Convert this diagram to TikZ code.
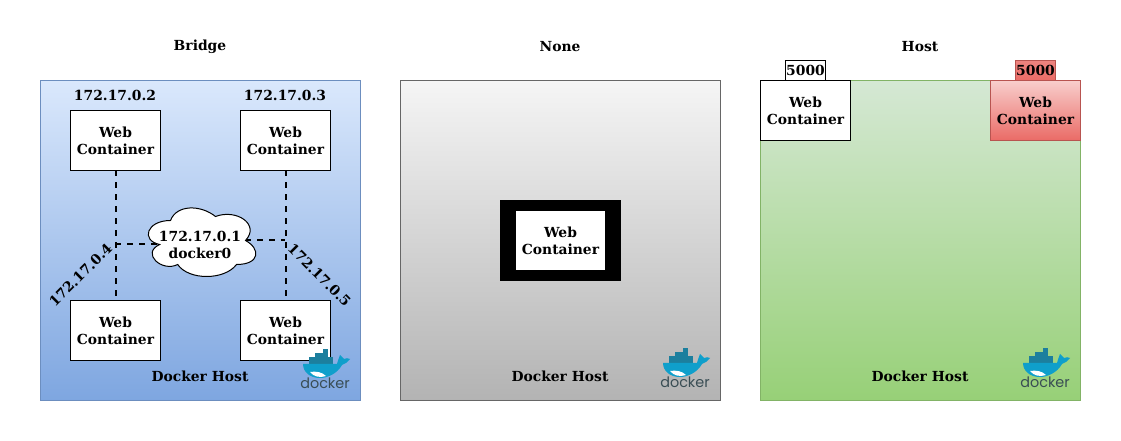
\documentclass[tikz,border=0pt]{standalone}
\usepackage{fontspec}
\setmainfont{DejaVu Serif}
\newfontfamily\logofont{Poppins}
\usetikzlibrary{calc}
\definecolor{bluetop}{HTML}{DAE8FC}\definecolor{bluebot}{HTML}{7EA6E0}\definecolor{bluedraw}{HTML}{6C8EBF}
\definecolor{graytop}{HTML}{F5F5F5}\definecolor{graybot}{HTML}{B3B3B3}\definecolor{graydraw}{HTML}{666666}
\definecolor{greentop}{HTML}{D5E8D4}\definecolor{greenbot}{HTML}{97D077}\definecolor{greendraw}{HTML}{82B366}
\definecolor{redtop}{HTML}{F8CECC}\definecolor{redbot}{HTML}{EA6B66}\definecolor{reddraw}{HTML}{B85450}
\definecolor{whale}{HTML}{0F9FCB}\definecolor{crate}{HTML}{1C7F9E}\definecolor{logotext}{HTML}{394D54}
\tikzset{
  every node/.style={font=\fontsize{10.4pt}{12.75pt}\selectfont\bfseries, align=center, inner sep=0pt, outer sep=0pt},
  hostbox/.style={minimum width=240pt, minimum height=240pt, draw=#1draw, top color=#1top, bottom color=#1bot, line width=.75pt},
  webbox/.style={minimum width=67.5pt, minimum height=45pt, draw=black, fill=white, line width=.75pt},
  redbox/.style={minimum width=67.5pt, minimum height=45pt, draw=reddraw, top color=redtop, bottom color=redbot, line width=.75pt},
  portbox/.style={minimum width=30pt, minimum height=15pt, line width=.75pt},
  link/.style={dash pattern=on 4.5pt off 4.5pt, line width=1.5pt, draw=black},
  dockerlogo/.pic={
    \fill[crate] (323,349) rectangle (328,353);
    \fill[crate] (315,353) rectangle (328,357);
    \fill[crate] (309,357) rectangle (333,364);
    \fill[whale] (303,364) -- (337,364) .. controls (338,360) and (339,358) .. (340,355)
      .. controls (342,357) and (343,358) .. (344,359) .. controls (346,358) and (348,358) .. (350,359)
      .. controls (348,362) and (345,364) .. (342,365) .. controls (337,374) and (327,378) .. (320,378)
      .. controls (310,378) and (303,372) .. (303,364) -- cycle;
    \fill[white] (310,372) .. controls (316,371) and (322,372) .. (326,376) .. controls (320,378) and (314,377) .. (310,372) -- cycle;
    \node[font=\fontsize{10.8pt}{12pt}\logofont, text=logotext, anchor=base] (-word) at (325,389) {docker};
  }
}
\begin{document}
\begin{tikzpicture}[x=.75pt,y=-.75pt]
\useasboundingbox (0,0) rectangle (1121,441);
% hosts
\node[hostbox=blue, anchor=north west] (bridge) at (40.5,80.5) {};
\node[hostbox=gray, anchor=north west] (none) at (400.5,80.5) {};
\node[hostbox=green, anchor=north west] (host) at (760.5,80.5) {};
% titles
\node (tb) at (200,46.5) {Bridge};
\node (tn) at (560,46.5) {None};
\node (th) at (920,46.5) {Host};
\node (db) at (200,376.5) {Docker Host};
\node (dn) at (560,376.5) {Docker Host};
\node (dh) at (920,376.5) {Docker Host};
% bridge containers
\node[webbox] (w1) at (115.5,140.5) {Web\\Container};
\node[webbox] (w2) at (285.5,140.5) {Web\\Container};
\node[webbox] (w3) at (115.5,330.5) {Web\\Container};
\node[webbox] (w4) at (285.5,330.5) {Web\\Container};
\node (ip2) at (115,95.5) {172.17.0.2};
\node (ip3) at (285,95.5) {172.17.0.3};
\node[rotate=45] (ip4) at (80.5,275) {172.17.0.4};
\node[rotate=-45] (ip5) at (319.5,275) {172.17.0.5};
% links
\coordinate (j1) at (115,244);
\coordinate (j2) at (285,240);
\coordinate (cl) at (160,244);
\coordinate (cr) at (245,240);
\draw[link, xshift=-.4pt] (w1.south) -- (w3.north);
\draw[link, xshift=-.4pt] (w2.south) -- (w4.north);
\draw[link] (j1) -- (cl);
\draw[link] (cr) -- (j2);
% cloud
\def\cx{140.5}\def\cy{200.5}\def\cw{120}\def\ch{80}
\newcommand{\cp}[2]{({\cx+#1*\cw},{\cy+#2*\ch})}
\draw[fill=white,line width=.75pt] \cp{.25}{.25}
 .. controls \cp{.05}{.25} and \cp{0}{.5} .. \cp{.16}{.55}
 .. controls \cp{0}{.66} and \cp{.18}{.9} .. \cp{.31}{.8}
 .. controls \cp{.4}{1} and \cp{.7}{1} .. \cp{.8}{.8}
 .. controls \cp{1}{.8} and \cp{1}{.6} .. \cp{.875}{.5}
 .. controls \cp{1}{.3} and \cp{.8}{.1} .. \cp{.625}{.2}
 .. controls \cp{.5}{.05} and \cp{.3}{.05} .. \cp{.25}{.25} -- cycle;
\node (cloud) at (200,245) {172.17.0.1\\docker0};
% none
\node[minimum width=90.5pt, minimum height=60.5pt, fill=black] (nb) at (560.5,240.5) {};
\node[minimum width=67pt, minimum height=44.5pt, fill=white] (nw) at (560.5,240.5) {Web\\Container};
% host
\node[portbox, draw=black, fill=white] (p1) at (805.5,70.5) {5000};
\node[portbox, draw=reddraw, top color=redbot!75!redtop, bottom color=redbot] (p2) at (1035.5,70.5) {5000};
\node[webbox] (h1) at (805.5,110.5) {Web\\Container};
\node[redbox] (h2) at (1035.5,110.5) {Web\\Container};
% logos
\pic (l1) at (0,0) {dockerlogo};
\pic (l2) at (360,-1) {dockerlogo};
\pic (l3) at (720,-1) {dockerlogo};
\end{tikzpicture}
\end{document}
